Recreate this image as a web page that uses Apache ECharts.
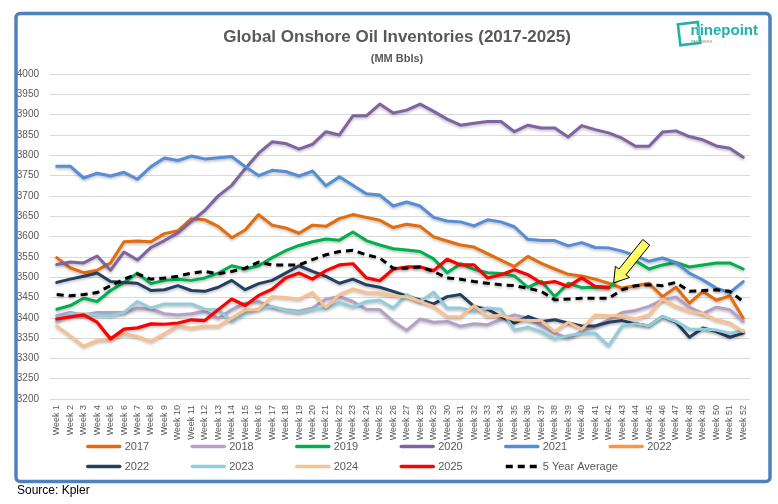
<!DOCTYPE html>
<html>
<head>
<meta charset="utf-8">
<script src="https://cdn.jsdelivr.net/npm/echarts@6/dist/echarts.min.js"></script>
<style>
  html, body { margin: 0; padding: 0; background: #fff; }
  #chart { width: 778px; height: 504px; }
</style>
</head>
<body>
<div id="chart"></div>
<script>
// weeks on the x axis
var weeks = [];
for (var w = 1; w <= 52; w++) weeks.push('Week ' + w);

// inventories, MM Bbls
var y2017 = [3548,3523,3511,3517,3535,3587,3589,3587,3607,3614,3644,3641,3625,3597,3616,3654,3628,3621,3608,3628,3625,3644,3654,3647,3640,3622,3630,3625,3599,3589,3579,3574,3558,3542,3526,3551,3534,3520,3507,3503,3495,3485,3473,3479,3485,3452,3475,3436,3465,3443,3454,3399];
var y2018 = [3405,3413,3407,3413,3413,3413,3424,3421,3410,3407,3410,3416,3399,3420,3436,3440,3426,3420,3416,3424,3446,3452,3440,3421,3420,3391,3369,3397,3389,3391,3379,3385,3383,3396,3407,3399,3380,3362,3350,3366,3379,3395,3413,3418,3428,3444,3451,3426,3410,3426,3420,3391];
var y2019 = [3421,3430,3448,3440,3467,3487,3510,3484,3492,3495,3492,3498,3510,3528,3520,3528,3548,3565,3578,3587,3594,3591,3611,3590,3579,3570,3567,3563,3545,3511,3533,3519,3511,3509,3503,3475,3490,3452,3485,3474,3475,3473,3505,3540,3520,3530,3536,3525,3530,3535,3535,3520];
var y2020 = [3531,3537,3535,3552,3517,3562,3542,3573,3590,3609,3637,3664,3700,3726,3767,3805,3833,3829,3815,3827,3858,3850,3897,3897,3926,3904,3911,3926,3908,3889,3874,3879,3883,3883,3858,3874,3867,3867,3845,3873,3863,3855,3842,3822,3822,3857,3860,3846,3838,3823,3817,3795];
var y2021 = [3773,3773,3744,3756,3749,3758,3741,3772,3793,3787,3798,3791,3794,3797,3772,3750,3763,3760,3749,3761,3725,3747,3726,3705,3702,3675,3685,3675,3647,3638,3636,3626,3641,3636,3624,3593,3590,3590,3577,3585,3573,3572,3564,3553,3539,3547,3536,3510,3493,3473,3462,3489];
var y2022a = []; // orange 2022 entry, only in the legend
var y2022 = [3487,3495,3502,3510,3489,3487,3485,3467,3469,3479,3467,3465,3475,3492,3469,3484,3492,3510,3528,3514,3502,3485,3495,3481,3475,3465,3454,3444,3434,3452,3457,3428,3421,3403,3387,3403,3391,3395,3387,3380,3380,3389,3393,3385,3380,3403,3389,3352,3375,3366,3352,3362];
var y2023 = [3391,3409,3409,3407,3405,3413,3440,3424,3434,3434,3434,3421,3420,3391,3411,3422,3428,3418,3413,3420,3424,3438,3426,3440,3443,3424,3457,3440,3463,3424,3424,3416,3424,3421,3370,3377,3366,3348,3356,3362,3362,3331,3380,3385,3380,3403,3391,3372,3372,3370,3362,3368];
var y2024 = [3380,3356,3330,3344,3346,3361,3354,3342,3361,3380,3375,3379,3379,3399,3420,3420,3452,3450,3446,3462,3426,3457,3471,3462,3461,3454,3451,3440,3428,3403,3402,3430,3403,3406,3395,3393,3393,3366,3389,3372,3407,3405,3405,3397,3407,3446,3428,3416,3410,3395,3387,3366];
var y2025 = [3397,3402,3407,3389,3348,3372,3375,3385,3384,3387,3395,3393,3420,3446,3430,3455,3470,3498,3510,3495,3516,3530,3533,3498,3491,3520,3525,3525,3516,3544,3530,3530,3498,3506,3518,3506,3485,3489,3477,3498,3477,3475];
var avg5 = [3457,3454,3457,3462,3479,3495,3508,3495,3498,3502,3510,3514,3508,3514,3522,3537,3530,3530,3530,3543,3555,3563,3566,3555,3547,3522,3522,3525,3514,3498,3495,3489,3485,3481,3479,3473,3465,3444,3446,3448,3448,3448,3469,3479,3481,3479,3487,3465,3467,3469,3465,3440];

var yTicks = { min: 3200, max: 4000, step: 50 };

// legend rows as in the picture
var legendRow1 = ['2017', '2018', '2019', '2020', '2021', '2022'];
var legendRow2 = ['2022 ', '2023', '2024', '2025', '5 Year Average'];

// where the yellow arrow points (week, value)
var arrowAt = ['Week 42', 3486];

var grey = '#595959';
var font = "'Liberation Sans', Arial, sans-serif";

function line(name, data, color, extra) {
    var s = {
        name: name,
        type: 'line',
        data: data,
        symbol: 'none',
        smooth: false,
        animation: false,
        lineStyle: {
            color: color, width: 3, cap: 'round', join: 'round',
            shadowColor: 'rgba(0,0,0,0.28)', shadowBlur: 3, shadowOffsetY: 1.5
        },
        itemStyle: { color: color }
    };
    if (extra) Object.assign(s.lineStyle, extra);
    return s;
}

// one legend per entry, so the columns line up like the original
var legends = [];
[legendRow1, legendRow2].forEach(function(row, r) {
    row.forEach(function(name, i) {
        legends.push({
            data: [name],
            left: 86 + i * 104.5,
            top: 441 + r * 20,
            padding: 0,
            itemWidth: 32,
            itemHeight: 10,
            itemStyle: { opacity: 0 },
            lineStyle: { width: 3.5, shadowBlur: 0, shadowOffsetY: 0 },
            selectedMode: false,
            textStyle: { color: grey, fontSize: 11, fontFamily: font }
        });
    });
});

var option = {
    animation: false,
    backgroundColor: '#fff',
    title: [{
        text: 'Global Onshore Oil Inventories (2017-2025)',
        left: 392, top: 24, textAlign: 'center',
        textStyle: { color: grey, fontSize: 17, fontWeight: 'bold', fontFamily: font }
    }, {
        text: '(MM Bbls)',
        left: 392, top: 48, textAlign: 'center',
        textStyle: { color: grey, fontSize: 11, fontWeight: 'bold', fontFamily: font }
    }],
    grid: { left: 50, right: 28, top: 74, bottom: 105 },
    legend: legends,
    xAxis: {
        type: 'category',
        data: weeks,
        boundaryGap: true,
        axisLine: { show: false },
        axisTick: { show: false },
        axisLabel: {
            rotate: 90, interval: 0, margin: 6,
            color: grey, fontSize: 9, fontFamily: font
        }
    },
    yAxis: {
        type: 'value',
        min: yTicks.min, max: yTicks.max, interval: yTicks.step,
        axisLine: { show: false },
        axisTick: { show: false },
        splitLine: { lineStyle: { color: '#d9d9d9', width: 1 } },
        axisLabel: {
            color: grey, fontSize: 10, margin: 11, fontFamily: font,
            formatter: function(v) { return String(v); }
        }
    },
    series: [
        line('2017', y2017, '#e46c0a'),
        line('2018', y2018, '#b3a2c7'),
        line('2019', y2019, '#00b050'),
        line('2020', y2020, '#8064a2'),
        line('2021', y2021, '#558ed5'),
        line('2022', y2022a, '#f79646'),
        line('2022 ', y2022, '#243f60'),
        line('2023', y2023, '#92cddc'),
        line('2024', y2024, '#fac090'),
        line('2025', y2025, '#ff0000', { width: 3.2 }),
        line('5 Year Average', avg5, '#000000', { type: [7, 5], cap: 'butt' })
    ]
};

var myChart = echarts.init(document.getElementById('chart'), null, { renderer: 'canvas' });
myChart.setOption(option);

// frame, logo, source note and the yellow arrow
var tip = myChart.convertToPixel({ gridIndex: 0 }, arrowAt);
tip = [tip[0] + 5, tip[1]];
var ux = -0.627, uy = 0.779;   // direction tail -> tip
var nx = 0.779, ny = 0.627;
function pt(a, b) { return [tip[0] - ux * a + nx * b, tip[1] - uy * a + ny * b]; }
var arrowPts = [pt(0, 0), pt(14, 9), pt(14, 4.5), pt(52, 4.5), pt(52, -4.5), pt(14, -4.5), pt(14, -9)];

myChart.setOption({
    graphic: [
        {
            type: 'rect', z: 100, silent: true,
            shape: { x: 16, y: 13.5, width: 754, height: 468, r: 4 },
            style: { fill: null, stroke: '#4f81bd', lineWidth: 3.5 }
        },
        {
            type: 'rect', z: 100, rotation: 0.12, originX: 690, originY: 33,
            shape: { x: 679, y: 23, width: 20, height: 21 },
            style: { fill: null, stroke: '#20b2aa', lineWidth: 2.6 }
        },
        {
            type: 'text', z: 101, left: 690, top: 23,
            style: { text: 'ninepoint', fill: '#20b2aa', font: "bold 15px " + font, stroke: '#fff', lineWidth: 1 }
        },
        {
            type: 'text', z: 100, left: 691, top: 40,
            style: { text: 'PARTNERS', fill: '#8a8a8a', font: "4px " + font }
        },
        {
            type: 'text', z: 100, left: 17, top: 485,
            style: { text: 'Source: Kpler', fill: '#000', font: "12px " + font }
        },
        {
            type: 'polygon', z: 100,
            shape: { points: arrowPts },
            style: { fill: '#ffff66', stroke: '#000', lineWidth: 1 }
        }
    ]
});
</script>
</body>
</html>
